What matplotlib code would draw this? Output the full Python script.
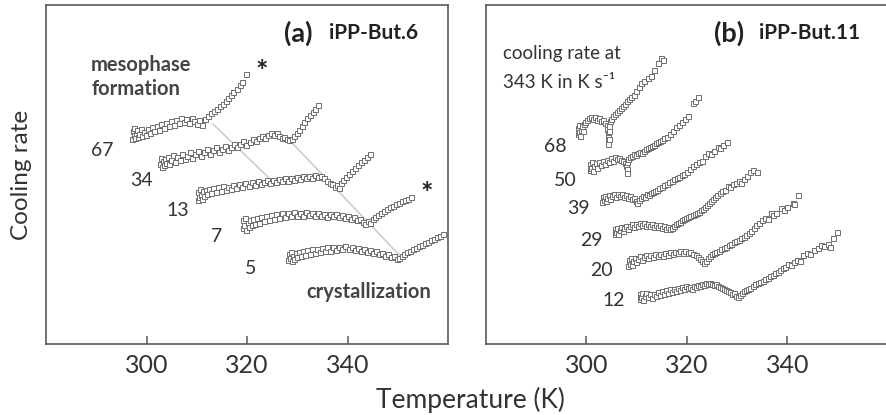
import numpy as np
import matplotlib.pyplot as plt

plt.rcParams['font.family'] = ['Lato', 'DejaVu Sans']

# (temperature in K, cooling rate in arbitrary offset units)
a67 = [(297.2, 205), (297.3, 213), (297.5, 209), (297.6, 216), (297.8, 206), (298.0, 211), (298.2, 214),
       (298.4, 207), (298.6, 210), (298.9, 215), (299.2, 208), (299.5, 212), (299.9, 209), (300.3, 215),
       (300.7, 211), (301.1, 217), (301.5, 213), (302.0, 218), (302.4, 214), (302.9, 220), (303.4, 216),
       (303.9, 221), (304.4, 218), (304.9, 223), (305.4, 219), (305.9, 224), (306.4, 221), (306.9, 226),
       (307.4, 222), (307.9, 225), (308.4, 221), (309.0, 226), (309.5, 223), (310.0, 220), (310.5, 224),
       (311.0, 219), (311.6, 225), (312.2, 228), (312.8, 231), (313.4, 233), (314.0, 235), (314.6, 238),
       (315.2, 240), (315.8, 243), (316.3, 246), (316.8, 249), (317.3, 252), (318.0, 255), (318.6, 259),
       (319.1, 262), (319.9, 270)]
a34 = [(302.7, 180), (302.8, 186), (303.0, 177), (303.2, 183), (303.4, 179), (303.6, 185), (303.9, 181),
       (304.2, 187), (304.5, 180), (304.9, 184), (305.3, 189), (305.7, 182), (306.1, 187), (306.6, 184),
       (307.1, 190), (307.6, 185), (308.1, 188), (308.6, 192), (309.1, 186), (309.7, 190), (310.3, 193),
       (310.9, 188), (311.5, 192), (312.1, 195), (312.7, 190), (313.3, 194), (313.9, 197), (314.5, 192),
       (315.1, 195), (315.7, 198), (316.3, 194), (316.9, 197), (317.5, 200), (318.1, 197), (318.7, 200),
       (319.3, 203), (319.9, 199), (320.5, 202), (321.1, 205), (321.7, 203), (322.3, 206), (322.9, 208),
       (323.5, 206), (324.1, 209), (324.7, 211), (325.3, 209), (325.9, 211), (326.4, 208), (326.9, 206),
       (327.4, 207), (327.9, 205), (328.4, 204), (328.9, 205), (329.4, 208), (329.9, 211), (330.4, 214),
       (330.9, 218), (331.4, 222), (331.9, 226), (332.5, 229), (333.1, 232), (333.6, 235), (334.2, 239)]
a13 = [(310.2, 144), (310.3, 152), (310.5, 147), (310.6, 155), (310.8, 149), (311.0, 145), (311.2, 153),
       (311.5, 148), (311.8, 154), (312.1, 150), (312.5, 155), (312.9, 151), (313.3, 156), (313.8, 152),
       (314.3, 157), (314.8, 153), (315.3, 158), (315.8, 154), (316.3, 157), (316.8, 155), (317.3, 159),
       (317.9, 156), (318.5, 160), (319.1, 157), (319.7, 161), (320.3, 158), (320.9, 162), (321.5, 159),
       (322.1, 163), (322.7, 160), (323.3, 162), (323.9, 164), (324.5, 161), (325.1, 164), (325.7, 162),
       (326.3, 165), (326.9, 163), (327.5, 166), (328.1, 163), (328.7, 166), (329.3, 164), (329.9, 167),
       (330.5, 165), (331.1, 168), (331.7, 166), (332.3, 168), (332.9, 166), (333.5, 169), (334.1, 167),
       (334.7, 168), (335.3, 166), (335.9, 163), (336.5, 161), (337.0, 160), (337.5, 157), (337.9, 159),
       (338.3, 156), (338.7, 161), (339.2, 164), (339.7, 167), (340.2, 170), (340.8, 173), (341.4, 176),
       (342.0, 179), (342.6, 182), (343.2, 184), (343.8, 187), (344.5, 190)]
a7 = [(319.2, 116), (319.3, 124), (319.5, 119), (319.7, 126), (319.9, 114), (320.1, 121), (320.3, 117),
      (320.6, 124), (320.9, 119), (321.2, 125), (321.6, 120), (322.0, 126), (322.4, 121), (322.8, 127),
      (323.3, 123), (323.8, 128), (324.3, 124), (324.8, 129), (325.3, 125), (325.8, 130), (326.3, 126),
      (326.9, 131), (327.5, 127), (328.1, 131), (328.7, 128), (329.3, 132), (329.9, 128), (330.5, 131),
      (331.1, 128), (331.7, 132), (332.3, 129), (332.9, 131), (333.5, 128), (334.1, 131), (334.7, 128),
      (335.3, 130), (335.9, 127), (336.5, 130), (337.1, 128), (337.7, 130), (338.3, 127), (338.9, 129),
      (339.5, 126), (340.1, 128), (340.7, 125), (341.3, 127), (341.9, 124), (342.5, 125), (343.0, 122),
      (343.5, 120), (344.0, 123), (344.5, 121), (345.0, 125), (345.5, 127), (346.0, 129), (346.6, 131),
      (347.2, 133), (347.8, 135), (348.4, 137), (349.0, 138), (349.6, 140), (350.2, 141), (350.8, 143),
      (351.4, 144), (352.0, 145), (352.7, 147)]
a5 = [(328.2, 84), (328.3, 90), (328.5, 86), (328.7, 92), (328.9, 83), (329.1, 88), (329.4, 85), (329.7, 91),
      (330.0, 87), (330.4, 92), (330.8, 88), (331.2, 93), (331.6, 89), (332.0, 94), (332.5, 90), (333.0, 95),
      (333.5, 91), (334.0, 95), (334.5, 92), (335.0, 96), (335.5, 93), (336.0, 97), (336.6, 93), (337.2, 97),
      (337.8, 94), (338.4, 97), (339.0, 95), (339.6, 98), (340.2, 95), (340.8, 97), (341.4, 94), (342.0, 96),
      (342.6, 93), (343.2, 95), (343.8, 92), (344.4, 94), (345.0, 91), (345.6, 93), (346.2, 90), (346.8, 91),
      (347.4, 88), (348.0, 90), (348.6, 87), (349.2, 88), (349.8, 85), (350.3, 86), (350.8, 88), (351.3, 90),
      (351.8, 92), (352.4, 93), (353.0, 95), (353.6, 96), (354.2, 98), (354.8, 99), (355.4, 101), (356.0, 102),
      (356.6, 104), (357.2, 105), (357.8, 107), (358.4, 108), (359.0, 110)]

b68 = [(298.3, 210), (298.4, 216), (298.5, 212), (298.6, 219), (298.7, 208), (298.9, 214), (299.1, 218),
       (299.3, 213), (299.5, 220), (299.8, 222), (300.1, 224), (300.5, 226), (300.9, 227), (301.3, 225),
       (301.7, 227), (302.1, 224), (302.5, 226), (302.9, 223), (303.3, 224), (303.7, 221), (304.0, 219),
       (304.1, 215), (304.2, 211), (304.2, 207), (304.3, 203), (304.3, 200), (304.4, 205), (304.4, 213),
       (304.5, 218), (304.6, 223), (304.9, 225), (305.3, 228), (305.7, 230), (306.1, 232), (306.5, 234),
       (306.9, 236), (307.3, 238), (307.7, 240), (308.1, 243), (308.5, 245), (308.9, 247), (309.4, 249),
       (309.9, 253), (310.4, 257), (310.9, 261), (311.5, 263), (312.2, 266), (312.8, 268), (313.4, 274),
       (314.3, 281), (314.8, 286), (315.3, 284)]
b50 = [(300.6, 174), (300.7, 180), (300.9, 176), (301.1, 182), (301.3, 173), (301.5, 178), (301.8, 181),
       (302.1, 176), (302.4, 182), (302.8, 179), (303.2, 183), (303.6, 180), (304.0, 184), (304.4, 182),
       (304.8, 186), (305.2, 183), (305.6, 187), (306.0, 185), (306.4, 186), (306.8, 184), (307.2, 183),
       (307.6, 181), (307.9, 178), (308.0, 175), (308.0, 171), (308.1, 182), (308.3, 185), (308.6, 187),
       (309.0, 188), (309.4, 190), (309.8, 189), (310.2, 191), (310.6, 192), (311.0, 191), (311.4, 193),
       (311.8, 195), (312.2, 196), (312.6, 197), (313.0, 198), (313.4, 199), (313.8, 201), (314.2, 202),
       (314.6, 203), (315.0, 204), (315.5, 206), (316.0, 207), (316.6, 210), (317.2, 213), (317.8, 217),
       (318.4, 219), (319.1, 222), (319.6, 225), (320.2, 228), (321.1, 241), (321.6, 243), (322.1, 247)]
b39 = [(303.1, 142), (303.2, 147), (303.4, 144), (303.6, 148), (303.8, 143), (304.1, 146), (304.4, 149),
       (304.7, 145), (305.0, 148), (305.4, 150), (305.8, 147), (306.2, 150), (306.6, 148), (307.0, 150),
       (307.4, 147), (307.8, 149), (308.2, 146), (308.6, 148), (309.0, 145), (309.4, 146), (309.8, 143),
       (310.1, 141), (310.4, 144), (310.8, 146), (311.2, 148), (311.6, 147), (312.0, 150), (312.4, 149),
       (312.8, 151), (313.2, 152), (313.6, 153), (314.0, 154), (314.5, 156), (315.0, 157), (315.5, 159),
       (316.0, 160), (316.5, 162), (317.0, 163), (317.5, 165), (318.0, 166), (318.5, 167), (319.0, 169),
       (319.5, 170), (320.0, 172), (320.6, 175), (321.2, 178), (321.8, 180), (322.4, 182), (323.0, 183),
       (323.6, 188), (324.1, 191), (324.7, 190), (325.3, 193), (326.1, 197), (326.6, 196), (327.1, 199),
       (328.0, 202)]
b29 = [(305.6, 110), (305.7, 115), (305.9, 112), (306.1, 116), (306.3, 110), (306.6, 114), (306.9, 117),
       (307.2, 113), (307.5, 116), (307.9, 118), (308.3, 115), (308.7, 118), (309.1, 120), (309.5, 117),
       (309.9, 120), (310.3, 118), (310.7, 121), (311.1, 119), (311.5, 121), (311.9, 118), (312.3, 120),
       (312.7, 118), (313.1, 120), (313.5, 117), (313.9, 119), (314.3, 117), (314.7, 119), (315.1, 116),
       (315.5, 118), (315.9, 115), (316.3, 117), (316.7, 115), (317.1, 116), (317.5, 118), (317.9, 120),
       (318.3, 121), (318.7, 122), (319.1, 124), (319.5, 125), (319.9, 126), (320.3, 127), (320.7, 128),
       (321.1, 129), (321.5, 130), (321.9, 131), (322.3, 132), (322.7, 134), (323.1, 135), (323.5, 137),
       (323.9, 139), (324.3, 141), (324.7, 143), (325.1, 145), (325.5, 147), (326.0, 149), (326.5, 151),
       (327.0, 153), (327.5, 154), (328.1, 158), (328.6, 157), (329.1, 160), (329.8, 161), (330.3, 163),
       (330.7, 161), (331.3, 165), (331.9, 168), (332.6, 172), (333.2, 174), (334.0, 172)]
b20 = [(308.3, 78), (308.4, 84), (308.6, 80), (308.8, 86), (309.0, 79), (309.3, 83), (309.6, 86), (309.9, 82),
       (310.3, 85), (310.7, 88), (311.1, 84), (311.5, 87), (311.9, 89), (312.3, 86), (312.7, 89), (313.2, 87),
       (313.7, 90), (314.2, 88), (314.7, 90), (315.2, 88), (315.7, 91), (316.2, 89), (316.7, 92), (317.2, 90),
       (317.7, 92), (318.2, 91), (318.7, 93), (319.2, 91), (319.7, 93), (320.2, 91), (320.7, 92), (321.2, 90),
       (321.7, 89), (322.1, 87), (322.5, 85), (322.9, 83), (323.3, 81), (323.7, 83), (324.1, 86), (324.5, 88),
       (324.9, 90), (325.3, 91), (325.8, 92), (326.3, 93), (326.8, 95), (327.3, 96), (327.8, 97), (328.3, 99),
       (328.8, 100), (329.3, 102), (329.8, 103), (330.3, 104), (330.8, 106), (331.3, 107), (331.8, 109),
       (332.3, 111), (332.8, 113), (333.3, 116), (333.8, 119), (334.3, 121), (334.9, 124), (335.5, 126),
       (336.1, 125), (336.7, 131), (337.2, 129), (337.7, 131), (338.7, 136), (339.3, 134), (339.9, 137),
       (341.1, 141), (341.3, 140), (342.1, 149)]
b12 = [(310.6, 45), (310.7, 50), (310.9, 47), (311.1, 51), (311.3, 44), (311.6, 48), (311.9, 51), (312.2, 47),
       (312.6, 50), (313.0, 46), (313.4, 50), (313.8, 48), (314.2, 52), (314.6, 49), (315.0, 53), (315.4, 50),
       (315.8, 54), (316.2, 51), (316.6, 55), (317.0, 52), (317.4, 55), (317.8, 53), (318.2, 56), (318.6, 54),
       (319.0, 57), (319.4, 55), (319.8, 58), (320.2, 56), (320.6, 57), (321.0, 55), (321.4, 58), (321.8, 57),
       (322.2, 59), (322.6, 58), (323.0, 60), (323.4, 59), (323.8, 61), (324.2, 60), (324.6, 61), (325.0, 60),
       (325.4, 59), (325.8, 60), (326.2, 58), (326.6, 57), (327.0, 56), (327.4, 55), (327.8, 54), (328.2, 53),
       (328.6, 52), (329.0, 50), (329.4, 51), (329.8, 48), (330.2, 47), (330.6, 49), (331.0, 51), (331.4, 53),
       (331.8, 54), (332.2, 55), (332.6, 56), (333.1, 58), (333.6, 60), (334.1, 61), (334.6, 62), (335.1, 63),
       (335.6, 65), (336.1, 66), (336.6, 68), (337.1, 69), (337.6, 71), (338.1, 72), (338.6, 74), (339.1, 76),
       (339.6, 77), (340.2, 80), (340.8, 79), (341.3, 82), (341.9, 84), (342.5, 83), (343.1, 89), (343.9, 91),
       (344.5, 90), (345.2, 94), (346.0, 96), (346.6, 99), (347.3, 98), (348.0, 100), (348.5, 97),
       (349.1, 106), (349.9, 112)]

curves_a = [a67, a34, a13, a7, a5]
labels_a = ['67', '34', '13', '7', '5']
label_pos_a = [(291.1, 194), (298.9, 164), (306.3, 134), (313.9, 107), (320.8, 76)]
curves_b = [b68, b50, b39, b29, b20, b12]
labels_b = ['68', '50', '39', '29', '20', '12']
label_pos_b = [(293.7, 197), (295.7, 164), (298.3, 136), (300.9, 104), (303.0, 74), (305.4, 44)]

# guide lines through onset of mesophase formation and crystallization
meso_line = [(313.2, 220), (324.4, 166)]
cryst_line = [(328.8, 202), (350.3, 89)]
stars = [(323.0, 272), (355.7, 150)]

txt = '#333333'
spine = '#5a5a5a'

fig = plt.figure(figsize=(8.86, 4.15), dpi=100)
axa = fig.add_axes([46 / 886, 71 / 415, 402 / 886, 339 / 415])
axb = fig.add_axes([486 / 886, 71 / 415, 412 / 886, 339 / 415])

for ax in (axa, axb):
    ax.set_ylim(0, 339)
    ax.set_xticks([300, 320, 340])
    ax.set_yticks([])
    ax.tick_params(axis='x', direction='in', length=6, width=1.1, color=spine,
                   labelsize=18, labelcolor=txt, pad=7)
    for s in ax.spines.values():
        s.set_color(spine)
        s.set_linewidth(1.2)
axa.set_xlim(280, 360)
axb.set_xlim(280, 362)
axb.spines['right'].set_visible(False)  # panel (b) is cut off at the right in the original

mk = dict(ls='none', marker='s', ms=3.6, mfc='white', mec='#6e6e6e', mew=0.7)

for seg in (meso_line, cryst_line):
    seg = np.array(seg)
    axa.plot(seg[:, 0], seg[:, 1], color='#c8c8c8', lw=1.1, zorder=1)

for c, lab, pos in zip(curves_a, labels_a, label_pos_a):
    d = np.array(c)
    axa.plot(d[:, 0], d[:, 1], zorder=2, **mk)
    axa.text(pos[0], pos[1], lab, ha='center', va='center', fontsize=14, color=txt)

for sx, sy in stars:
    axa.text(sx, sy, '*', ha='center', va='center', fontsize=21, fontweight='bold', color='#222222')

axa.text(289.0, 267, 'mesophase\nformation', ha='left', va='center', fontsize=14.5,
         fontweight='bold', color='#444444', linespacing=1.3)
axa.text(344.2, 52, 'crystallization', ha='center', va='center', fontsize=14.5,
         fontweight='bold', color='#444444')
axa.text(327.4, 311, '(a)', ha='left', va='center', fontsize=19.5, fontweight='bold', color='#222222')
axa.text(336.4, 311, 'iPP-But.6', ha='left', va='center', fontsize=15, fontweight='bold', color='#222222')

for c, lab, pos in zip(curves_b, labels_b, label_pos_b):
    d = np.array(c)
    axb.plot(d[:, 0], d[:, 1], zorder=2, **mk)
    axb.text(pos[0], pos[1], lab, ha='center', va='center', fontsize=14, color=txt)

axb.text(283.4, 291, 'cooling rate at', ha='left', va='center', fontsize=13.5, color=txt)
axb.text(283.4, 262, '343 K in K s\u207b\u00b9', ha='left', va='center', fontsize=13.5, color=txt)
axb.text(325.3, 311, '(b)', ha='left', va='center', fontsize=19.5, fontweight='bold', color='#222222')
axb.text(334.4, 311, 'iPP-But.11', ha='left', va='center', fontsize=15, fontweight='bold', color='#222222')

fig.text(22 / 886, 1 - 174.5 / 415, 'Cooling rate', rotation=90, ha='center', va='center',
         fontsize=17.5, color=txt)
fig.text(470 / 886, 1 - 400 / 415, 'Temperature (K)', ha='center', va='center',
         fontsize=19, color=txt)

fig.savefig('out.png', dpi=100)
